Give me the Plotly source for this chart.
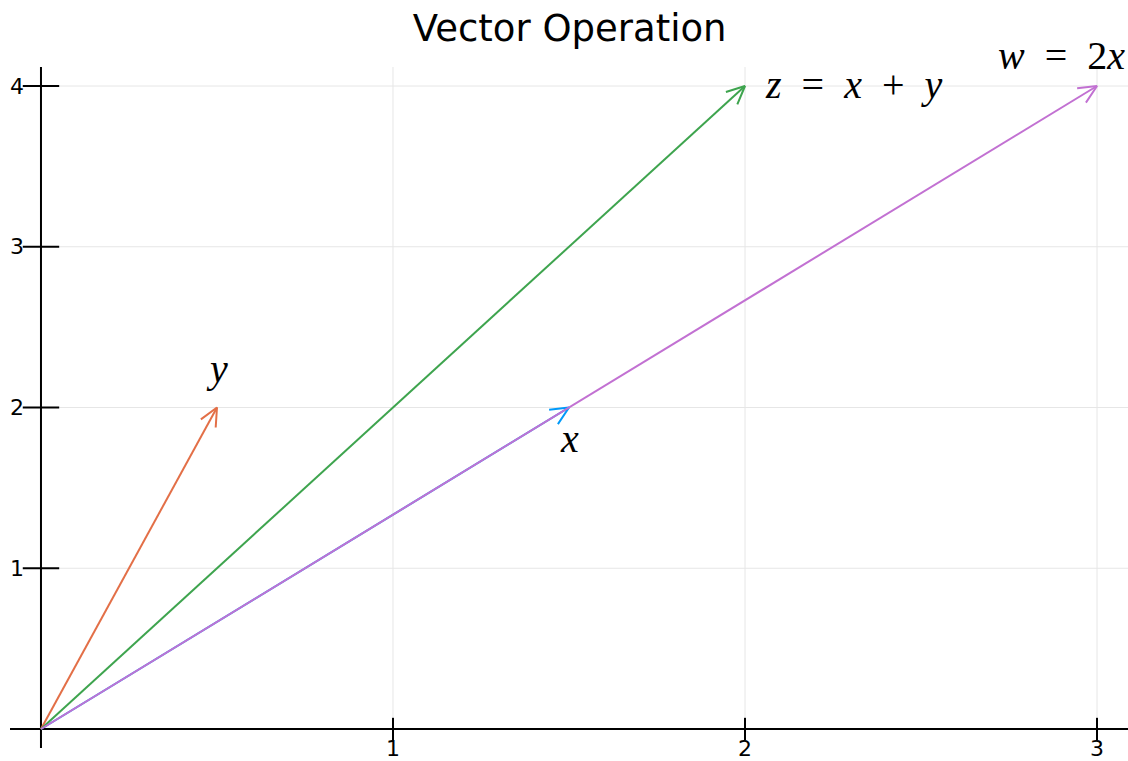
import math
import plotly.graph_objects as go

# Vectors: x, y, their sum z and the scaled vector w
names = ["x", "y", "z", "w"]
vec_x = [1.5, 0.5, 2.0, 3.0]
vec_y = [2.0, 2.0, 4.0, 4.0]
colors = ["#009AFA", "#E36F47", "#3EA44E", "#C271D2"]

# Label text and where each label sits (data coordinates)
SP = "&nbsp; "
label_text = [
    "<i>x</i>",
    "<i>y</i>",
    f"<i>z</i>{SP}={SP}<i>x</i>{SP}+{SP}<i>y</i>",
    f"<i>w</i>{SP}={SP}2<i>x</i>",
]
label_x = [1.5, 0.5, 2.05, 2.9]
label_y = [1.81, 2.24, 4.01, 4.19]
label_anchor = ["center", "center", "left", "center"]

x_ticks = [1, 2, 3]
y_ticks = [1, 2, 3, 4]

W, H = 1128, 761
M_L, M_R, M_T, M_B = 10, 0, 0, 0
X_RANGE = [-0.088, 3.088]
Y_RANGE = [-0.199, 4.535]
X_AXIS_END = 3.088
Y_AXIS_SPAN = [-0.118, 4.118]

# pixels per data unit, used to shape the arrow heads
sx = (W - M_L - M_R) / (X_RANGE[1] - X_RANGE[0])
sy = (H - M_T - M_B) / (Y_RANGE[1] - Y_RANGE[0])
HEAD_LEN = 20.0
HEAD_ANGLE = math.radians(25)

fig = go.Figure()

for name, vx, vy, col in zip(names, vec_x, vec_y, colors):
    theta = math.atan2(vy * sy, vx * sx)
    wings = []
    for s in (1, -1):
        a = theta + s * HEAD_ANGLE
        wings.append((vx - HEAD_LEN * math.cos(a) / sx,
                      vy - HEAD_LEN * math.sin(a) / sy))
    xs = [0, vx, None, wings[0][0], vx, wings[1][0]]
    ys = [0, vy, None, wings[0][1], vy, wings[1][1]]
    fig.add_trace(go.Scatter(x=xs, y=ys, mode="lines", name=name,
                             line=dict(color=col, width=2),
                             hoverinfo="skip", showlegend=False))

# tick marks crossing the axes
fig.add_trace(go.Scatter(x=[0] * len(y_ticks), y=y_ticks, mode="markers",
                         marker=dict(symbol="line-ew", size=26,
                                     line=dict(width=2, color="black")),
                         hoverinfo="skip", showlegend=False))
fig.add_trace(go.Scatter(x=x_ticks, y=[0] * len(x_ticks), mode="markers",
                         marker=dict(symbol="line-ns", size=16,
                                     line=dict(width=2, color="black")),
                         hoverinfo="skip", showlegend=False))

shapes = []
grid = dict(color="#e6e6e6", width=1)
for t in x_ticks:
    shapes.append(dict(type="line", xref="x", yref="y", x0=t, x1=t,
                       y0=0, y1=Y_AXIS_SPAN[1], line=grid, layer="below"))
for t in y_ticks:
    shapes.append(dict(type="line", xref="x", yref="y", x0=0, x1=X_AXIS_END,
                       y0=t, y1=t, line=grid, layer="below"))
axis_line = dict(color="black", width=2)
shapes.append(dict(type="line", xref="x", yref="y", x0=X_RANGE[0], x1=X_AXIS_END,
                   y0=0, y1=0, line=axis_line, layer="below"))
shapes.append(dict(type="line", xref="x", yref="y", x0=0, x1=0,
                   y0=Y_AXIS_SPAN[0], y1=Y_AXIS_SPAN[1], line=axis_line, layer="below"))

annotations = []
tick_font = dict(family="DejaVu Sans", size=22, color="black")
for t in y_ticks:
    annotations.append(dict(x=0, y=t, xref="x", yref="y", text=str(t),
                            showarrow=False, xanchor="right", yanchor="middle",
                            xshift=-16, borderpad=0, font=tick_font))
for t in x_ticks:
    annotations.append(dict(x=t, y=0, xref="x", yref="y", text=str(t),
                            showarrow=False, xanchor="center", yanchor="middle",
                            yshift=-19, borderpad=0, font=tick_font))

math_font = dict(family="Liberation Serif", size=40, color="black")
for txt, lx, ly, anc in zip(label_text, label_x, label_y, label_anchor):
    annotations.append(dict(x=lx, y=ly, xref="x", yref="y", text=txt,
                            showarrow=False, xanchor=anc, yanchor="middle",
                            font=math_font))

fig.update_layout(
    width=W, height=H,
    margin=dict(l=M_L, r=M_R, t=M_T, b=M_B),
    paper_bgcolor="white", plot_bgcolor="white",
    title=dict(text="Vector Operation", x=0.505, xanchor="center",
               y=1 - 28 / H, yanchor="middle",
               font=dict(family="DejaVu Sans", size=37, color="black")),
    xaxis=dict(range=X_RANGE, visible=False, fixedrange=True),
    yaxis=dict(range=Y_RANGE, visible=False, fixedrange=True),
    shapes=shapes,
    annotations=annotations,
    showlegend=False,
)

fig.write_html("out.html")
